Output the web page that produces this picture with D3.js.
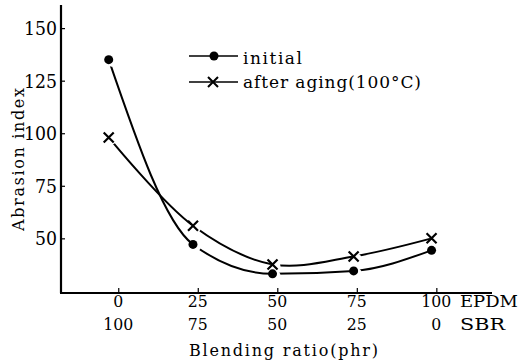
<!DOCTYPE html>
<html><head><meta charset="utf-8">
<script src="https://cdn.jsdelivr.net/npm/d3@7"></script>
<style>
html,body{margin:0;padding:0;background:#fff;}
svg{display:block;}
svg text{font-family:"DejaVu Serif","Liberation Serif","Times New Roman",serif !important;fill:#000;}
</style></head>
<body>
<script>
// ---- data ----
const epdm = [0, 25, 50, 75, 100];          // tick labels row 1 (EPDM phr)
const sbr = [100, 75, 50, 25, 0];           // tick labels row 2 (SBR phr)
const yTicks = [50, 75, 100, 125, 150];
const xPos = [-3, 23.5, 48.5, 74, 98.5];    // plotted blending positions
const initialVals = [135, 47.1, 33.1, 34.5, 44.3];
const agedVals = [98, 56, 37.6, 41.4, 50];
const seriesNames = ["initial", "after aging(100°C)"];

const W = 523, H = 364;
const svg = d3.select("body").append("svg").attr("width", W).attr("height", H);

const x = d3.scaleLinear().domain([-18, 117.5]).range([61, 492]);
const y = d3.scaleLinear().domain([24, 161]).range([293, 5]);

// axes lines
svg.append("line").attr("x1", x(-18)).attr("x2", x(-18)).attr("y1", y(161)).attr("y2", y(24))
  .attr("stroke", "#000").attr("stroke-width", 2.2);
svg.append("line").attr("x1", x(-18) - 1).attr("x2", x(117.5)).attr("y1", y(24)).attr("y2", y(24))
  .attr("stroke", "#000").attr("stroke-width", 2.2);

// y axis ticks and labels via d3 axis
const yAxis = d3.axisRight(y).tickValues(yTicks).tickSize(4).tickFormat(d3.format("d"));
const yg = svg.append("g").attr("transform", `translate(${x(-18)},0)`).call(yAxis);
yg.select(".domain").remove();
yg.selectAll(".tick line").attr("stroke", "#000").attr("stroke-width", 1.2);
yg.selectAll(".tick text").attr("x", -4).attr("dy", "0.36em").attr("text-anchor", "end")
  .style("font-size", "18px").attr("fill", "#000")
  .attr("textLength", 33).attr("lengthAdjust", "spacingAndGlyphs");
yg.selectAll(".tick text").filter(d => d < 100).attr("textLength", 22);

// x axis ticks (inward) and two rows of labels
const xg = svg.append("g").attr("transform", `translate(0,${y(24)})`)
  .call(d3.axisTop(x).tickValues(epdm).tickSize(5).tickFormat(""));
xg.select(".domain").remove();
xg.selectAll(".tick line").attr("stroke", "#000").attr("stroke-width", 1.2);

const wOf = d => String(d).length * 10;
svg.selectAll("text.epdm").data(epdm).join("text").attr("class", "epdm")
  .attr("x", d => x(d) - wOf(d) / 2).attr("y", 307)
  .attr("textLength", d => wOf(d)).attr("lengthAdjust", "spacingAndGlyphs")
  .style("font-size", "17px").text(d => d);
svg.selectAll("text.sbr").data(sbr).join("text").attr("class", "sbr")
  .attr("x", (d, i) => x(epdm[i]) - wOf(d) / 2).attr("y", 330)
  .attr("textLength", d => wOf(d)).attr("lengthAdjust", "spacingAndGlyphs")
  .style("font-size", "17px").text(d => d);
svg.append("text").attr("x", 460).attr("y", 307).style("font-size", "17px")
  .attr("textLength", 58).attr("lengthAdjust", "spacingAndGlyphs").text("EPDM");
svg.append("text").attr("x", 460).attr("y", 330).style("font-size", "17px")
  .attr("textLength", 45).attr("lengthAdjust", "spacingAndGlyphs").text("SBR");

// axis titles
svg.append("text").attr("x", 189).attr("y", 356).style("font-size", "16px")
  .attr("textLength", 189).attr("lengthAdjust", "spacing").text("Blending ratio(phr)");
svg.append("text").attr("transform", "translate(24,231) rotate(-90)").style("font-size", "16px")
  .attr("textLength", 143).attr("lengthAdjust", "spacing").text("Abrasion index");

// curves
const initPts = xPos.map((v, i) => [v, initialVals[i]]);
const agedPts = xPos.map((v, i) => [v, agedVals[i]]);
const lineInit = d3.line().x(d => x(d[0])).y(d => y(d[1])).curve(d3.curveMonotoneX);
const lineAged = d3.line().x(d => x(d[0])).y(d => y(d[1])).curve(d3.curveCatmullRom.alpha(0.5));
svg.append("path").attr("d", lineInit(initPts)).attr("fill", "none")
  .attr("stroke", "#000").attr("stroke-width", 2);
svg.append("path").attr("d", lineAged(agedPts)).attr("fill", "none")
  .attr("stroke", "#000").attr("stroke-width", 2);

// gaps around markers
[initPts, agedPts].forEach(pts => {
  svg.selectAll(null).data(pts).join("circle")
    .attr("cx", d => x(d[0]) + 3).attr("cy", d => y(d[1]) + 2).attr("r", 5).attr("fill", "#fff");
});

// markers
svg.selectAll("circle.init").data(initPts).join("circle").attr("class", "init")
  .attr("cx", d => x(d[0])).attr("cy", d => y(d[1])).attr("r", 4.5).attr("fill", "#000");
const xm = 5;
svg.selectAll("path.aged").data(agedPts).join("path").attr("class", "aged")
  .attr("d", d => {
    const cx = x(d[0]), cy = y(d[1]);
    return `M${cx - xm},${cy - xm}L${cx + xm},${cy + xm}M${cx - xm},${cy + xm}L${cx + xm},${cy - xm}`;
  })
  .attr("stroke", "#000").attr("stroke-width", 2.2).attr("fill", "none");

// legend
const leg = svg.append("g");
const legY = [56, 82];
legY.forEach((ly, i) => {
  leg.append("line").attr("x1", 189).attr("x2", 238).attr("y1", ly).attr("y2", ly)
    .attr("stroke", "#000").attr("stroke-width", 1.5);
});
leg.append("circle").attr("cx", 214).attr("cy", legY[0]).attr("r", 4.5).attr("fill", "#000");
leg.append("path").attr("d", `M${213 - 5},${legY[1] - 5}L${213 + 5},${legY[1] + 5}M${213 - 5},${legY[1] + 5}L${213 + 5},${legY[1] - 5}`)
  .attr("stroke", "#000").attr("stroke-width", 2);
leg.append("text").attr("x", 243).attr("y", 64).style("font-size", "17px")
  .attr("textLength", 59).attr("lengthAdjust", "spacing").text(seriesNames[0]);
leg.append("text").attr("x", 243).attr("y", 88).style("font-size", "17px")
  .attr("textLength", 178).attr("lengthAdjust", "spacing").text(seriesNames[1]);
</script>
</body></html>
